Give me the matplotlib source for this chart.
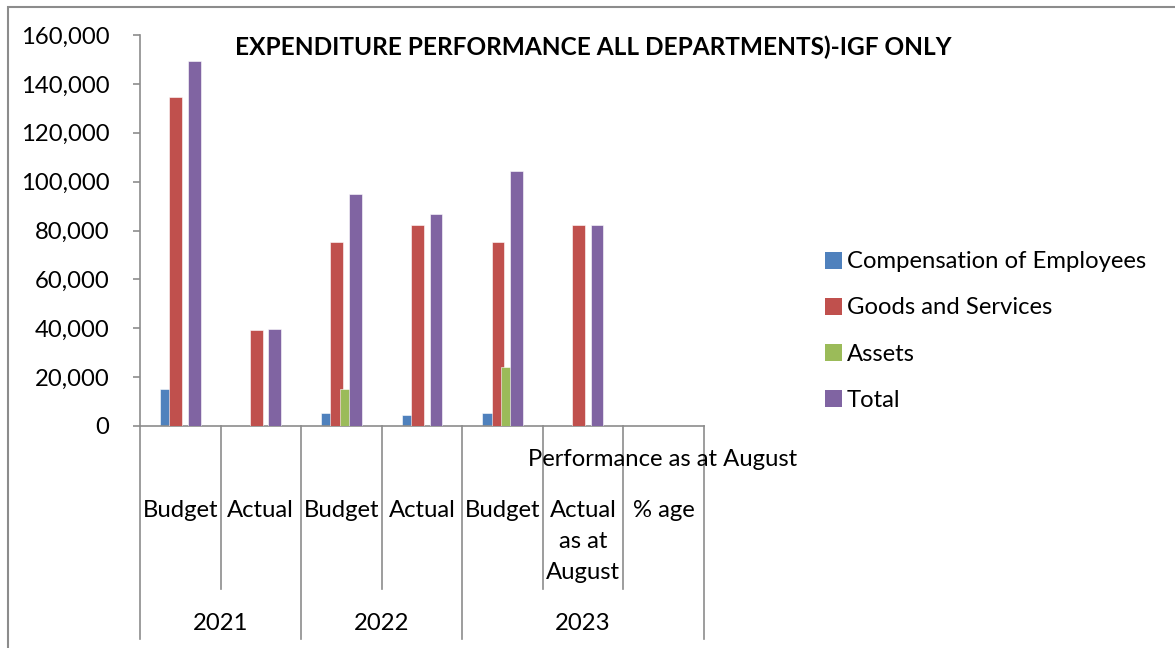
import matplotlib
matplotlib.use("Agg")
import matplotlib.pyplot as plt
import numpy as np
from matplotlib.transforms import blended_transform_factory
from matplotlib.patches import Patch, Rectangle

# ---- data ----
categories = ["Budget", "Actual", "Budget", "Actual", "Budget", "Actual\nas at\nAugust", "% age"]
years = ["2021", "2022", "2023"]
series_names = ["Compensation of Employees", "Goods and Services", "Assets", "Total"]
comp = [15000, 0, 5200, 4500, 5200, 0, np.nan]
goods = [134500, 39400, 75100, 82200, 75100, 82200, np.nan]
assets = [0, 0, 15000, 0, 24000, 0, np.nan]
total = [149500, 39800, 95100, 86700, 104300, 82200, np.nan]
yticks = [0, 20000, 40000, 60000, 80000, 100000, 120000, 140000, 160000]
title = "EXPENDITURE PERFORMANCE ALL DEPARTMENTS)-IGF ONLY"
perf_label = "Performance as at August"

colors = ["#4F81BD", "#C0504D", "#9BBB59", "#8064A2"]
FONT = "Lato"
FS = 17.2
GRAY = "#8C8C8C"

W, H = 1175, 648
fig = plt.figure(figsize=(W / 100, H / 100), dpi=100)
fig.patch.set_facecolor("white")
plt.rcParams['font.family'] = [FONT, 'DejaVu Sans']

def fx(px):
    return px / W

def fy(py):
    return 1 - py / H

ax = fig.add_axes([fx(140), fy(426), fx(704) - fx(140), fy(35) - fy(426)])
ax.set_xlim(-0.5, len(categories) - 0.5)
ax.set_ylim(0, 160000)

x = np.arange(len(categories))
step = 0.115
width = 0.158
for i, (vals, c, name) in enumerate(zip([comp, goods, assets, total], colors, series_names)):
    ax.bar(x + (i - 1.5) * step, vals, width=width, color=c, edgecolor="white",
           linewidth=0.4, label=name, zorder=2 + i)

for s in ["top", "right"]:
    ax.spines[s].set_visible(False)
for s in ["left", "bottom"]:
    ax.spines[s].set_color(GRAY)
    ax.spines[s].set_linewidth(1.2)

ax.set_yticks(yticks)
ax.set_yticklabels([f"{v:,}" for v in yticks], fontsize=FS, fontfamily=FONT)
ax.tick_params(axis="y", direction="out", length=5, width=1.2, color=GRAY, pad=17)
ax.set_xticks([])

# category axis (multi-level)
tr = blended_transform_factory(ax.transData, fig.transFigure)
full_b = [-0.5, 1.5, 3.5, 6.5]
short_b = [0.5, 2.5, 4.5, 5.5]
for b in full_b:
    ax.plot([b, b], [fy(426), fy(639)], transform=tr, color=GRAY, lw=1.2, clip_on=False)
for b in short_b:
    ax.plot([b, b], [fy(426), fy(589)], transform=tr, color=GRAY, lw=1.2, clip_on=False)

for xi, lab in zip(x, categories):
    ax.text(xi, fy(500), lab, transform=tr, ha="center", va="top", fontsize=FS,
            fontfamily=FONT, linespacing=1.6)

year_centers = [0.5, 2.5, 5.0]
for xc, yr in zip(year_centers, years):
    ax.text(xc, fy(624), yr, transform=tr, ha="center", va="center", fontsize=FS, fontfamily=FONT)

fig.text(fx(663), fy(460), perf_label, ha="center", va="center", fontsize=FS, fontfamily=FONT)

fig.text(fx(593), fy(47), title, ha="center", va="center", fontsize=17.6, fontweight="bold",
         fontfamily=FONT)

handles = [Patch(facecolor=c, edgecolor="none") for c in colors]
leg = fig.legend(handles, series_names, loc="center left", bbox_to_anchor=(fx(825), fy(331)),
                 frameon=False, fontsize=FS, handlelength=0.72, handleheight=0.72,
                 handletextpad=0.2, labelspacing=1.05, borderaxespad=0, borderpad=0)
for t in leg.get_texts():
    t.set_fontfamily(FONT)

# outer chart border
fig.add_artist(Rectangle((fx(7.5), fy(700)), 2, fy(6.5) - fy(700), transform=fig.transFigure,
                         fill=False, edgecolor=GRAY, lw=1.5))

fig.savefig("out.png", dpi=100, facecolor="white")
